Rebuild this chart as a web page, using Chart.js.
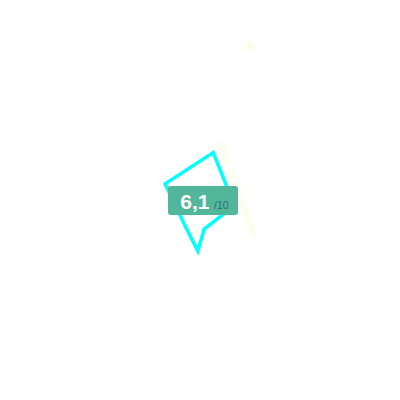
<!DOCTYPE html>
<html>
<head>
<meta charset="utf-8">
<script src="https://cdn.jsdelivr.net/npm/chart.js@4"></script>
<style>
  html, body { margin: 0; padding: 0; background: #fff; }
  #wrap { position: relative; width: 400px; height: 400px; overflow: hidden; font-family: "Liberation Sans", Arial, sans-serif; }
  #badge {
    position: absolute; left: 168px; top: 186px; width: 70px; height: 29px;
    background: #52b69a; border-radius: 3px; text-align: center; line-height: 31px; white-space: nowrap;
  }
  #score { color: #fff; font-weight: bold; font-size: 21px; margin-left: 3px; }
  #outof { color: #2f6f60; font-size: 10.5px; }
  .note { position: absolute; color: #f6ffd0; white-space: nowrap; }
  #topNote { left: 247px; top: 39px; font-size: 12px; }
  #sideNote { left: 238px; top: 189px; font-size: 10.5px; transform: translate(-50%, -50%) rotate(70deg); letter-spacing: 0.4px; }
</style>
</head>
<body>
<div id="wrap">
  <canvas id="radar" width="400" height="400"></canvas>
  <div class="note" id="topNote"></div>
  <div class="note" id="sideNote"></div>
  <div id="badge"><span id="score"></span> <span id="outof"></span></div>
</div>
<script>
const categories = ["a", "b", "c", "d", "e", "f", "g"];
const ratings = [4.14, 2.54, 0.72, 1.6, 0.51, 0.54, 2.72];
const scoreText = "6,1";
const outOfText = "/10";
const topLabel = "6";
const sideLabel = "Goût ist abgestimmt";

document.getElementById("score").textContent = scoreText;
document.getElementById("outof").textContent = outOfText;
document.getElementById("topNote").textContent = topLabel;
document.getElementById("sideNote").textContent = sideLabel;

new Chart(document.getElementById("radar"), {
  type: "radar",
  data: {
    labels: categories,
    datasets: [{
      data: ratings,
      borderColor: "#00ffff",
      backgroundColor: "rgba(0,0,0,0)",
      borderWidth: 3.5,
      pointRadius: 0,
      tension: 0,
    }],
  },
  options: {
    responsive: false,
    animation: false,
    layout: { padding: { top: 46, right: 14, bottom: 0, left: 0 } },
    plugins: { legend: { display: false }, tooltip: { enabled: false } },
    scales: {
      r: {
        min: 0,
        max: 10,
        startAngle: 16,
        grid: { display: false },
        angleLines: { display: false },
        ticks: { display: false },
        pointLabels: { display: false },
      },
    },
  },
});
</script>
</body>
</html>
